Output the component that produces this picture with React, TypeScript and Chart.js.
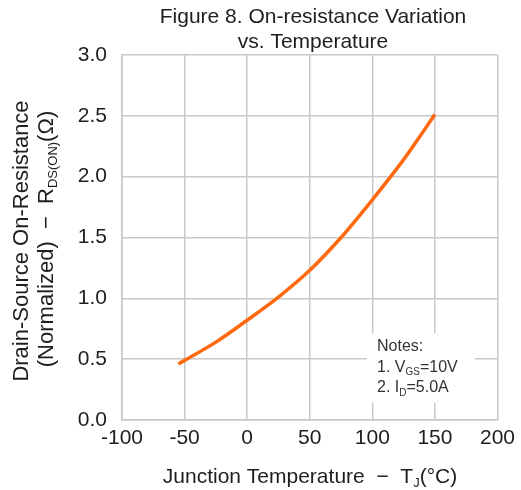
import React, { useEffect, useRef } from "react";
import { Chart, registerables } from "chart.js";

Chart.register(...registerables);

const temperatures = [-55, -50, -25, 0, 25, 50, 75, 100, 125, 150];
const rdsNormalized = [0.46, 0.49, 0.64, 0.82, 1.01, 1.23, 1.5, 1.81, 2.14, 2.51];

const titleLines = ["Figure 8. On-resistance Variation", "vs. Temperature"];
const xTitleParts = [["Junction Temperature  \u2212  T", "n"], ["J", "s"], ["(\u00B0C)", "n"]];
const yTitleLine1 = [["Drain-Source On-Resistance", "n"]];
const yTitleLine2 = [["(Normalized)  \u2212  R", "n"], ["DS(ON)", "s"], ["(\u03A9)", "n"]];
const notesLines = [
  [["Notes:", "n"]],
  [["1. V", "n"], ["GS", "s"], ["=10V", "n"]],
  [["2. I", "n"], ["D", "s"], ["=5.0A", "n"]],
];

const FONT = "'Liberation Sans', Arial, sans-serif";
const TEXT = "#1e1e1e";

function drawParts(ctx: CanvasRenderingContext2D, parts: string[][], cx: number, cy: number, size: number, subSize: number, align: "center" | "left") {
  const widths = parts.map(([t, k]) => {
    ctx.font = `${k === "s" ? subSize : size}px ${FONT}`;
    return ctx.measureText(t).width;
  });
  const total = widths.reduce((a, b) => a + b, 0);
  let x = align === "center" ? cx - total / 2 : cx;
  ctx.textAlign = "left";
  ctx.textBaseline = "middle";
  parts.forEach(([t, k], i) => {
    ctx.font = `${k === "s" ? subSize : size}px ${FONT}`;
    ctx.fillText(t, x, k === "s" ? cy + size * 0.3 : cy);
    x += widths[i];
  });
}

const annotationPlugin = {
  id: "annotations",
  afterDatasetsDraw(chart: any) {
    const ctx = chart.ctx as CanvasRenderingContext2D;
    ctx.save();
    ctx.fillStyle = TEXT;
    // title
    ctx.font = `21px ${FONT}`;
    ctx.textAlign = "center";
    ctx.textBaseline = "middle";
    ctx.fillText(titleLines[0], 313, 17);
    ctx.fillText(titleLines[1], 313, 42);
    // x title
    drawParts(ctx, xTitleParts, 310, 477, 21, 13, "center");
    // y title
    ctx.save();
    ctx.translate(22, 241);
    ctx.rotate(-Math.PI / 2);
    drawParts(ctx, yTitleLine1, 0, 0, 22, 13, "center");
    ctx.restore();
    ctx.save();
    ctx.translate(47, 239);
    ctx.rotate(-Math.PI / 2);
    drawParts(ctx, yTitleLine2, 0, 0, 22, 13, "center");
    ctx.restore();
    // notes box
    ctx.fillStyle = "#fff";
    ctx.fillRect(367, 333, 108, 70);
    ctx.fillStyle = "#333";
    notesLines.forEach((line, i) => {
      drawParts(ctx, line, 377, 347 + i * 20.5, 16, 10, "left");
    });
    ctx.restore();
  },
};

export default function App() {
  const ref = useRef<HTMLCanvasElement | null>(null);
  useEffect(() => {
    if (!ref.current) return;
    const chart = new Chart(ref.current, {
      type: "scatter",
      data: {
        datasets: [
          {
            data: temperatures.map((t, i) => ({ x: t, y: rdsNormalized[i] })),
            showLine: true,
            borderColor: "#ff6a10",
            borderWidth: 3.5,
            pointRadius: 0,
            cubicInterpolationMode: "monotone",
            fill: false,
          },
        ],
      },
      options: {
        animation: false,
        responsive: false,
        layout: { padding: { top: 55, right: 22, left: 0, bottom: 0 } },
        plugins: { legend: { display: false }, tooltip: { enabled: false } },
        scales: {
          x: {
            type: "linear",
            min: -100,
            max: 200,
            ticks: { stepSize: 50, font: { family: FONT, size: 21 }, color: TEXT, padding: 6, maxRotation: 0 },
            grid: { color: "#c8c8c8", lineWidth: 1.5, drawTicks: false },
            border: { color: "#c8c8c8", width: 1.5 },
            afterFit: (s: any) => { s.height = 70; },
          },
          y: {
            type: "linear",
            min: 0,
            max: 3,
            ticks: { stepSize: 0.5, font: { family: FONT, size: 21 }, color: TEXT, padding: 15, callback: (v: any) => Number(v).toFixed(1) },
            grid: { color: "#c8c8c8", lineWidth: 1.5, drawTicks: false },
            border: { color: "#c8c8c8", width: 1.5 },
            afterFit: (s: any) => { s.width = 122; },
          },
        },
      },
      plugins: [annotationPlugin],
    });
    return () => chart.destroy();
  }, []);
  return (
    <div style={{ position: "fixed", left: 0, top: 0, width: 521, height: 490, background: "#fff" }}>
      <canvas ref={ref} width={521} height={490} style={{ width: 521, height: 490 }} />
    </div>
  );
}
